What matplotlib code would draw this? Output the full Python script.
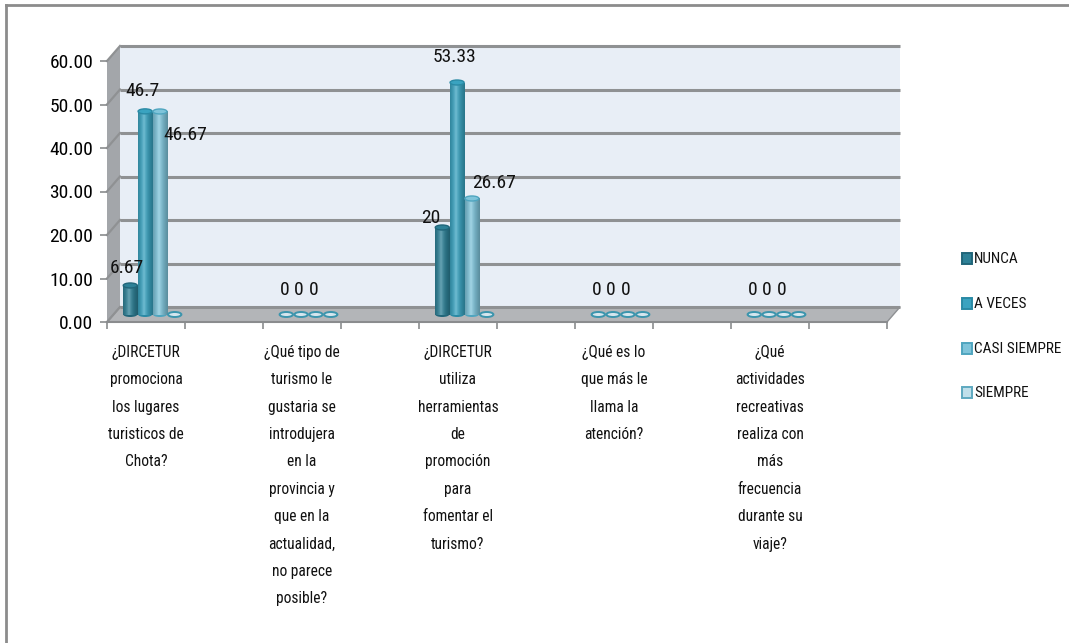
import numpy as np
import matplotlib
matplotlib.use("Agg")
import matplotlib.pyplot as plt
import matplotlib.font_manager as fm
import matplotlib.colors as mcolors
from matplotlib.patches import Polygon, Ellipse, Rectangle
from matplotlib.lines import Line2D

# pick a narrow sans family that is available
installed = {f.name for f in fm.fontManager.ttflist}
NARROW = next((n for n in ["Liberation Sans Narrow", "Roboto Condensed", "Archivo Narrow",
                           "Pragati Narrow", "Barlow Condensed", "Liberation Sans"]
               if n in installed), "DejaVu Sans")
plt.rcParams["font.family"] = [NARROW, "DejaVu Sans"]

categories = [
    "¿DIRCETUR\npromociona\nlos lugares\nturisticos de\nChota?",
    "¿Qué tipo de\nturismo le\ngustaria se\nintrodujera\nen la\nprovincia y\nque en la\nactualidad,\nno parece\nposible?",
    "¿DIRCETUR\nutiliza\nherramientas\nde\npromoción\npara\nfomentar el\nturismo?",
    "¿Qué es lo\nque más le\nllama la\natención?",
    "¿Qué\nactividades\nrecreativas\nrealiza con\nmás\nfrecuencia\ndurante su\nviaje?",
]
series = ["NUNCA", "A VECES", "CASI SIEMPRE", "SIEMPRE"]
nunca = [6.67, 0, 20, 0, 0]
a_veces = [46.7, 0, 53.33, 0, 0]
casi_siempre = [46.67, 0, 26.67, 0, 0]
siempre = [0, 0, 0, 0, 0]
data = [nunca, a_veces, casi_siempre, siempre]
labelled = [True, True, True, False]
yticks = [0, 10, 20, 30, 40, 50, 60]

colors = ["#2E8197", "#3AA3C0", "#7FC4DA", "#BFDFEA"]
edges = ["#21667A", "#2A8AA5", "#4FA5BF", "#5EA9C0"]

# label offsets (pixels) from the top of each bar, keyed by (category, series)
label_offsets = {
    (0, 0): (-3, 17), (0, 1): (-3, 20), (0, 2): (25, -24),
    (2, 0): (-12, 10), (2, 1): (-3, 26), (2, 2): (22, 15),
}
zero_offset = (-2, 25)

W, H = 1069, 643
fig = plt.figure(figsize=(W / 100, H / 100), dpi=100)
ax = fig.add_axes([107 / W, 1 - 322 / H, 780 / W, 261 / H])
nslots = 10
ax.set_facecolor("none")
for s in ax.spines.values():
    s.set_visible(False)

# depth of the pseudo 3D box, in data units
dx = 13 / 78
dy = 15 / (261 / 60)
top = 60

back = Polygon([(dx, dy), (nslots + dx, dy), (nslots + dx, top + dy), (dx, top + dy)],
               closed=True, fc="#E8EEF6", ec="none", zorder=0, clip_on=False)
left = Polygon([(0, 0), (dx, dy), (dx, top + dy), (0, top)],
               closed=True, fc="#A3A6AA", ec="none", zorder=0, clip_on=False)
floor = Polygon([(0, 0), (nslots, 0), (nslots + dx, dy), (dx, dy)],
                closed=True, fc="#B3B5B8", ec="#8E9093", lw=1, zorder=0.5, clip_on=False)
for p in (back, left, floor):
    ax.add_patch(p)

for v in yticks:
    ax.plot([dx, nslots + dx], [v + dy, v + dy], color="#8F9193", lw=2.2,
            zorder=0.6, clip_on=False, solid_capstyle="butt")
    ax.plot([0, dx], [v, v + dy], color="#8F9193", lw=1.6, zorder=0.6, clip_on=False)
ax.plot([0, nslots], [0, 0], color="#8A8C8E", lw=1.5, zorder=0.7, clip_on=False)

ax.set_yticks(yticks)
ax.set_yticklabels([f"{v:.2f}" for v in yticks], fontsize=14)
ax.set_xticks(range(nslots + 1))
ax.set_xticklabels([])
ax.tick_params(axis="both", direction="out", length=5, width=1.2, color="#8A8C8E", pad=5)

bw = 0.18
step = 0.19


def cylinder_gradient(c):
    base = np.array(mcolors.to_rgb(c))
    t = np.linspace(0, 1, 40)
    light = np.clip(1 - np.abs(t - 0.4) / 0.6, 0, 1)
    dark = 0.72 + 0.28 * light
    rgb = base[None, :] * dark[:, None]
    rgb = rgb + (1 - rgb) * (0.28 * light ** 3)[:, None]
    return rgb[None, :, :]


for j, vals in enumerate(data):
    for i, v in enumerate(vals):
        xc = 2 * i + 0.5 + (j - 1.5) * step + dx / 2
        y0 = dy / 2
        eh = 1.15
        if v > 0:
            ax.imshow(cylinder_gradient(colors[j]), extent=[xc - bw / 2, xc + bw / 2, y0, y0 + v],
                      aspect="auto", zorder=3 + j, interpolation="bilinear")
            ax.add_patch(Ellipse((xc, y0), bw, eh, fc=edges[j], ec="none", zorder=2.9 + j))
            ax.add_patch(Ellipse((xc, y0 + v), bw, eh, fc=colors[j], ec=edges[j], lw=1,
                                 zorder=3.1 + j))
        else:
            ax.add_patch(Ellipse((xc, y0), bw * 0.95, eh, fc="#D6E6EE", ec="#3C95AD", lw=1.4,
                                 zorder=3 + j))
        if labelled[j]:
            off = label_offsets.get((i, j), zero_offset)
            ax.annotate(f"{v:g}", (xc, y0 + v), xytext=off, textcoords="offset pixels",
                        ha="center", va="center", fontsize=14, color="#111111", zorder=10,
                        annotation_clip=False)

ax.set_xlim(0, nslots)
ax.set_ylim(0, 60)

for i, cat in enumerate(categories):
    ax.annotate(cat, (2 * i + 0.5, 0), xytext=(0, -23), textcoords="offset pixels",
                ha="center", va="top", fontsize=11.2, linespacing=2.03, multialignment="center",
                color="#111111", annotation_clip=False)

# legend
leg_y = [259, 304, 349, 393]
for j, name in enumerate(series):
    fig.add_artist(Rectangle((962 / W, 1 - (leg_y[j] + 5) / H), 10 / W, 11 / H,
                             fc=colors[j], ec=edges[j], lw=1.4, transform=fig.transFigure))
    fig.text(974 / W, 1 - leg_y[j] / H, name, fontsize=11, va="center", ha="left",
             color="#111111")

# outer frame on the left and top
fig.add_artist(Line2D([6 / W, 6 / W], [0, 1 - 5 / H], color="#8C8C8C", lw=2,
                      transform=fig.transFigure))
fig.add_artist(Line2D([6 / W, 1], [1 - 5 / H, 1 - 5 / H], color="#8C8C8C", lw=2,
                      transform=fig.transFigure))

fig.savefig("out.png", dpi=100, facecolor="white")
